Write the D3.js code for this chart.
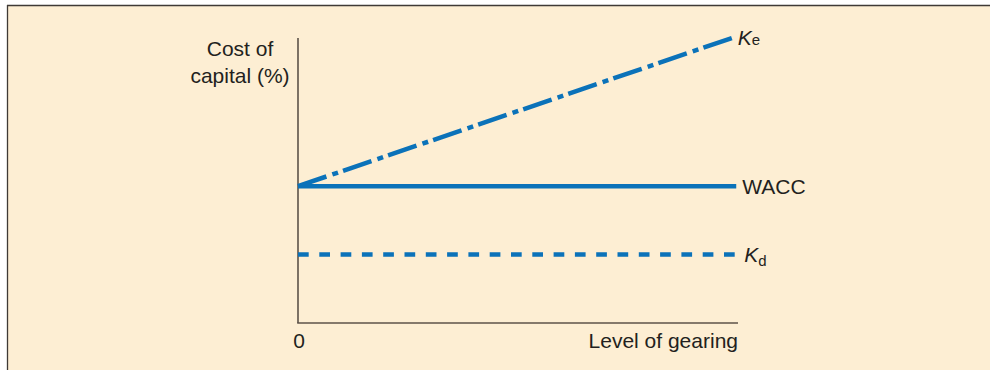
<!DOCTYPE html>
<html>
<head>
<meta charset="utf-8">
<script src="https://cdn.jsdelivr.net/npm/d3@7/dist/d3.min.js"></script>
<style>
  html, body { margin: 0; padding: 0; background: #fff; }
  svg { display: block; }
  text { font-family: "Liberation Sans", Arial, Helvetica, sans-serif; fill: #231f20; }
</style>
</head>
<body>
<div id="chart"></div>
<script>
// Level of gearing (x) and cost of capital (%) for each curve
const gearing = [0, 98.6];
const gearingFlat = [0, 99.6];
const costEquity = [48, 100];   // Ke rises with gearing
const wacc = [48, 48];          // WACC stays constant
const costDebt = [24, 24];      // Kd stays constant
const xTickLabels = ["0"];

const W = 990, H = 370;
const svg = d3.select("#chart").append("svg").attr("width", W).attr("height", H);

// panel background and frame
svg.append("rect").attr("x", 0).attr("y", 0).attr("width", W).attr("height", H).attr("fill", "#fff");
svg.append("rect").attr("x", 7).attr("y", 6).attr("width", W - 7).attr("height", H - 6).attr("fill", "#fdeed3");
svg.append("line").attr("x1", 7).attr("x2", W).attr("y1", 5.5).attr("y2", 5.5)
  .attr("stroke", "#3f3a36").attr("stroke-width", 1.3);
svg.append("line").attr("x1", 7.5).attr("x2", 7.5).attr("y1", 5).attr("y2", H)
  .attr("stroke", "#3f3a36").attr("stroke-width", 1.3);

const x = d3.scaleLinear().domain([0, 100]).range([298, 738]);
const y = d3.scaleLinear().domain([0, 100]).range([323, 38]);

const fs = 21;

// axes
const axisColor = "#5c5249";
svg.append("line").attr("x1", x(0)).attr("x2", x(0)).attr("y1", y(100)).attr("y2", y(0))
  .attr("stroke", axisColor).attr("stroke-width", 1.6);
svg.append("line").attr("x1", x(0) - 0.8).attr("x2", x(100)).attr("y1", y(0)).attr("y2", y(0))
  .attr("stroke", axisColor).attr("stroke-width", 1.6);

svg.selectAll("text.xtick").data(xTickLabels).enter().append("text")
  .attr("class", "xtick").attr("x", x(0) + 1).attr("y", 348)
  .attr("text-anchor", "middle").attr("font-size", fs).text(d => d);

svg.append("text").attr("x", x(100)).attr("y", 348).attr("text-anchor", "end")
  .attr("font-size", fs).text("Level of gearing");

const yTitle = svg.append("text").attr("text-anchor", "middle").attr("font-size", fs);
yTitle.append("tspan").attr("x", 240).attr("y", 56).text("Cost of");
yTitle.append("tspan").attr("x", 240).attr("y", 83).text("capital (%)");

// curves
const blue = "#0b72b9";
const line = d3.line().x(d => x(d[0])).y(d => y(d[1]));
const series = [
  { xs: gearing, ys: costEquity, dash: "30,6.3,6,5.3" },
  { xs: gearingFlat, ys: wacc, dash: null },
  { xs: gearingFlat, ys: costDebt, dash: "10.7,10.6" }
];
series.forEach(s => {
  const p = svg.append("path")
    .attr("d", line(s.xs.map((v, i) => [v, s.ys[i]])))
    .attr("fill", "none").attr("stroke", blue).attr("stroke-width", 4.5);
  if (s.dash) p.attr("stroke-dasharray", s.dash);
});

// curve labels
const ke = svg.append("text").attr("x", x(gearing[1]) + 6).attr("y", y(costEquity[1]) + 7).attr("font-size", fs);
ke.append("tspan").attr("font-style", "italic").text("K");
ke.append("tspan").attr("font-size", 15).text("e");

svg.append("text").attr("x", x(gearingFlat[1]) + 6).attr("y", y(wacc[1]) + 8)
  .attr("font-size", fs).text("WACC");

const kd = svg.append("text").attr("x", x(gearingFlat[1]) + 8).attr("y", y(costDebt[1]) + 7).attr("font-size", fs);
kd.append("tspan").attr("font-style", "italic").text("K");
kd.append("tspan").attr("font-size", 15).attr("dy", 4).text("d");
</script>
</body>
</html>
